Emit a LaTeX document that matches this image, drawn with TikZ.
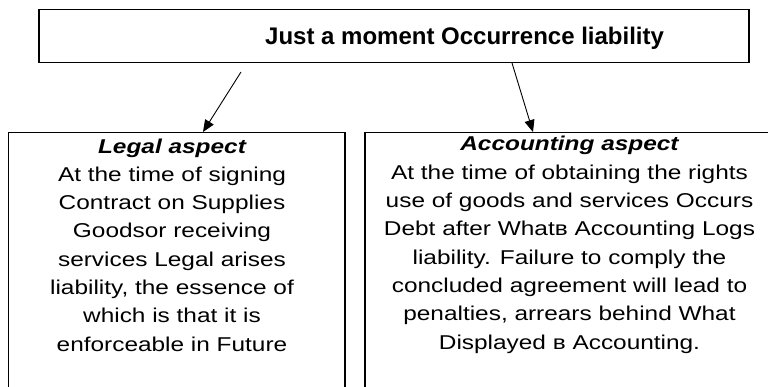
\documentclass[tikz,border=0pt]{standalone}
\usepackage{fontspec}
\setmainfont{Liberation Sans}
\newfontfamily\bodyfont[FakeStretch=1.22]{Liberation Sans}
\usetikzlibrary{arrows.meta}
\begin{document}
\begin{tikzpicture}[x=1pt,y=-1pt,
  frame/.style={draw=black,line width=1.5pt,inner sep=0pt,anchor=north west},
  titletext/.style={inner sep=0pt,anchor=base west,font=\fontsize{24}{28}\selectfont\bfseries},
  bodytext/.style={inner sep=0pt,anchor=base,align=center,font=\bodyfont\fontsize{20}{28.3}\selectfont},
  arr/.style={line width=0.9pt,-{Triangle[length=12pt,width=10pt]}}]
\useasboundingbox (0,0) rectangle (768,387);
\begin{scope}
\clip (0,0) rectangle (768,387);
\node[frame,minimum width=710pt,minimum height=53pt] (top) at (38,9) {};
\node[frame,minimum width=336.5pt,minimum height=270pt] (legal) at (7.5,132) {};
\node[frame,minimum width=412pt,minimum height=270pt] (acc) at (364,132) {};
\end{scope}
\node[titletext] (title) at (265,45) {Just a moment Occurrence liability};
\node[bodytext] (legaltext) at (172,351.1) {{\bfseries\itshape Legal aspect}\\
At the time of signing\\
Contract on Supplies\\
Goodsor receiving\\
services Legal arises\\
liability, the essence of\\
which is that it is\\
enforceable in Future};
\node[bodytext] (acctext) at (569.5,349) {{\bfseries\itshape Accounting aspect}\\
At the time of obtaining the rights\\
use of goods and services Occurs\\
Debt after Whatв Accounting Logs\\
liability. Failure to comply the\\
concluded agreement will lead to\\
penalties, arrears behind What\\
Displayed в Accounting.};
\coordinate (lstart) at (241,72);
\coordinate (ltip) at (203,132);
\coordinate (rstart) at (512,63);
\coordinate (rtip) at (533,132);
\draw[arr] (lstart) -- (ltip);
\draw[arr] (rstart) -- (rtip);
\end{tikzpicture}
\end{document}
